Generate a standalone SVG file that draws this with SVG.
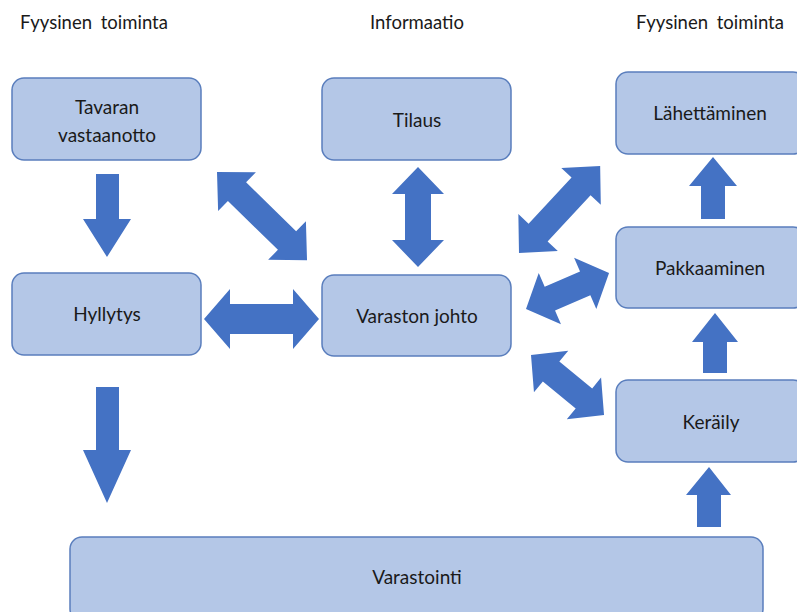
<svg xmlns="http://www.w3.org/2000/svg" width="797" height="612" viewBox="0 0 797 612">
<style>
.box{fill:#B4C7E7;stroke:#5A7EBD;stroke-width:1.5}
.arr{fill:#4472C4}
.lbl{font-family:Lato,"Liberation Sans",sans-serif;font-size:19px;fill:#1a1a1a;text-anchor:middle}
.hdr{font-family:Lato,"Liberation Sans",sans-serif;font-size:18.5px;fill:#1a1a1a;text-anchor:middle;word-spacing:4px}
</style>
<rect width="797" height="612" fill="#fff"/>
<g id="headers">
<text class="hdr" x="94" y="29">Fyysinen toiminta</text>
<text class="hdr" x="417" y="29">Informaatio</text>
<text class="hdr" x="710" y="29">Fyysinen toiminta</text>
</g>
<g id="tavaran">
<rect class="box" x="12" y="78" width="189" height="82" rx="12"/>
<text class="lbl" x="107" y="114">Tavaran</text>
<text class="lbl" x="107" y="142">vastaanotto</text>
</g>
<g id="hyllytys">
<rect class="box" x="12" y="273" width="189" height="82" rx="12"/>
<text class="lbl" x="107" y="321">Hyllytys</text>
</g>
<g id="tilaus">
<rect class="box" x="322" y="78" width="189" height="82" rx="12"/>
<text class="lbl" x="417" y="127">Tilaus</text>
</g>
<g id="varaston-johto">
<rect class="box" x="322" y="275" width="189" height="81" rx="12"/>
<text class="lbl" x="417" y="323">Varaston johto</text>
</g>
<g id="lahettaminen">
<rect class="box" x="616" y="72" width="189" height="82" rx="12"/>
<text class="lbl" x="710" y="120">Lähettäminen</text>
</g>
<g id="pakkaaminen">
<rect class="box" x="616" y="227" width="189" height="81" rx="12"/>
<text class="lbl" x="710" y="275">Pakkaaminen</text>
</g>
<g id="keraily">
<rect class="box" x="616" y="380" width="189" height="82" rx="12"/>
<text class="lbl" x="711" y="429">Keräily</text>
</g>
<g id="varastointi">
<rect class="box" x="70" y="537" width="693" height="84" rx="12"/>
<text class="lbl" x="417" y="584">Varastointi</text>
</g>
<g id="connectors">
<polygon class="arr" points="96,174 119,174 119,219 131,219 107,257 83,219 96,219"/>
<polygon class="arr" points="96,387 119,387 119,450 131,450 107,503 83,450 96,450"/>
<polygon class="arr" points="701,219 725,219 725,186 737,186 713,157 689,186 701,186"/>
<polygon class="arr" points="703,373 727,373 727,342 738,342 715,313 692,342 703,342"/>
<polygon class="arr" points="697,527 721,527 721,495 731,495 709,467 686,495 697,495"/>
<polygon class="arr" transform="translate(217,172) rotate(44.4)" points="0,0 28,-27 28,-13 98,-13 98,-27 126,0 98,27 98,13 28,13 28,27"/>
<polygon class="arr" transform="translate(204,319)" points="0,0 26,-30 26,-15 89,-15 89,-30 115,0 89,30 89,15 26,15 26,30"/>
<polygon class="arr" transform="translate(418,167) rotate(90)" points="0,0 27,-26 27,-13 73,-13 73,-26 100,0 73,26 73,13 27,13 27,26"/>
<polygon class="arr" transform="translate(519,253) rotate(-47)" points="0,0 28,-27 28,-13 91,-13 91,-27 119,0 91,27 91,13 28,13 28,27"/>
<polygon class="arr" transform="translate(526,309) rotate(-23.4)" points="0,0 26,-28 26,-13 64.5,-13 64.5,-28 90.5,0 64.5,28 64.5,13 26,13 26,28"/>
<polygon class="arr" transform="translate(531,355) rotate(39.4)" points="0,0 26,-27 26,-13 68.5,-13 68.5,-27 94.5,0 68.5,27 68.5,13 26,13 26,27"/>
</g>
</svg>
